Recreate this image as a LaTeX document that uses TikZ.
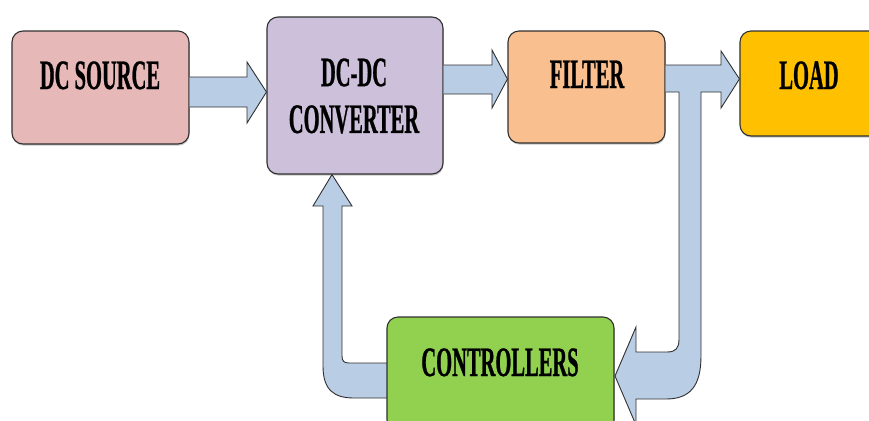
\documentclass[tikz,border=0pt]{standalone}
\usepackage{fontspec}
\usetikzlibrary{shadows}
\newfontfamily\labfont[FakeStretch=0.49,FakeBold=0.6]{Liberation Serif}
\definecolor{srcpink}{HTML}{E6B8B7}
\definecolor{convlilac}{HTML}{CCC0DA}
\definecolor{filtorange}{HTML}{FABF8F}
\definecolor{loadgold}{HTML}{FFC000}
\definecolor{ctrlgreen}{HTML}{92D050}
\definecolor{arrblue}{HTML}{B9CDE5}
\definecolor{edgegray}{HTML}{303030}
\begin{document}
\begin{tikzpicture}[x=1bp,y=-1bp,
  blockbox/.style={draw=edgegray,line width=1.1bp,rounded corners=11bp,inner sep=0pt,
    drop shadow={shadow xshift=0.6bp,shadow yshift=-1.6bp,opacity=0.45}},
  lab/.style={font=\labfont\bfseries\fontsize{42}{47}\selectfont,text=black,inner sep=0pt,anchor=base},
  fatarrow/.style={fill=arrblue,draw=edgegray,line width=0.9bp,line join=miter}]
\useasboundingbox (0,0) rectangle (869,420);
\clip (0,0) rectangle (869,420);
% blocks
\node[blockbox,fill=srcpink,minimum width=177bp,minimum height=113bp] (src) at (100.5,87.5) {};
\node[blockbox,fill=convlilac,minimum width=176bp,minimum height=157bp] (conv) at (355,95.5) {};
\node[blockbox,fill=filtorange,minimum width=157bp,minimum height=112bp] (filt) at (586.5,87) {};
\node[blockbox,fill=loadgold,minimum width=170bp,minimum height=105bp] (load) at (825,83.5) {};
% arrows
\draw[fatarrow] (src.east |- 0,77) -- (247,77) -- (247,62) -- (conv.west |- 0,92) -- (247,123) -- (247,107) -- (src.east |- 0,107);
\draw[fatarrow] (conv.east |- 0,65) -- (492,65) -- (492,50) -- (filt.west |- 0,79) -- (492,108) -- (492,94) -- (conv.east |- 0,94);
% filter -> load with branch down to controllers
\coordinate (ctrltip) at (615,376);
\draw[fatarrow] (filt.east |- 0,65) -- (721,65) -- (721,51) -- (load.west |- 0,79) -- (721,108) -- (721,92) -- (701,92)
  -- (701,356) .. controls (701,386) and (690,399) .. (666,399) -- (636,399) -- (636,425) -- (ctrltip) -- (636,327) -- (636,352)
  -- (667,352) .. controls (676,352) and (679,348) .. (679,339) -- (679,92) -- (filt.east |- 0,92);
% controllers -> converter
\draw[fatarrow] (395,363) -- (349,363) .. controls (344,363) and (342,361) .. (342,356) -- (342,206) -- (352,206) -- (conv.south -| 332,0)
  -- (313,206) -- (323,206) -- (323,366) .. controls (323,390) and (334,398) .. (354,398) -- (395,398);
\node[blockbox,fill=ctrlgreen,minimum width=227bp,minimum height=114bp] (ctrl) at (500.5,374) {};
% labels
\node[lab] (srctxt) at (100,89) {DC SOURCE};
\node[lab,anchor=center,align=center] (convtxt) at (354,96) {\bfseries DC-DC\\\bfseries CONVERTER};
\node[lab] (filttxt) at (587,88) {FILTER};
\node[lab] (loadtxt) at (809,89) {LOAD};
\node[lab] (ctrltxt) at (500,376) {CONTROLLERS};
\end{tikzpicture}
\end{document}
